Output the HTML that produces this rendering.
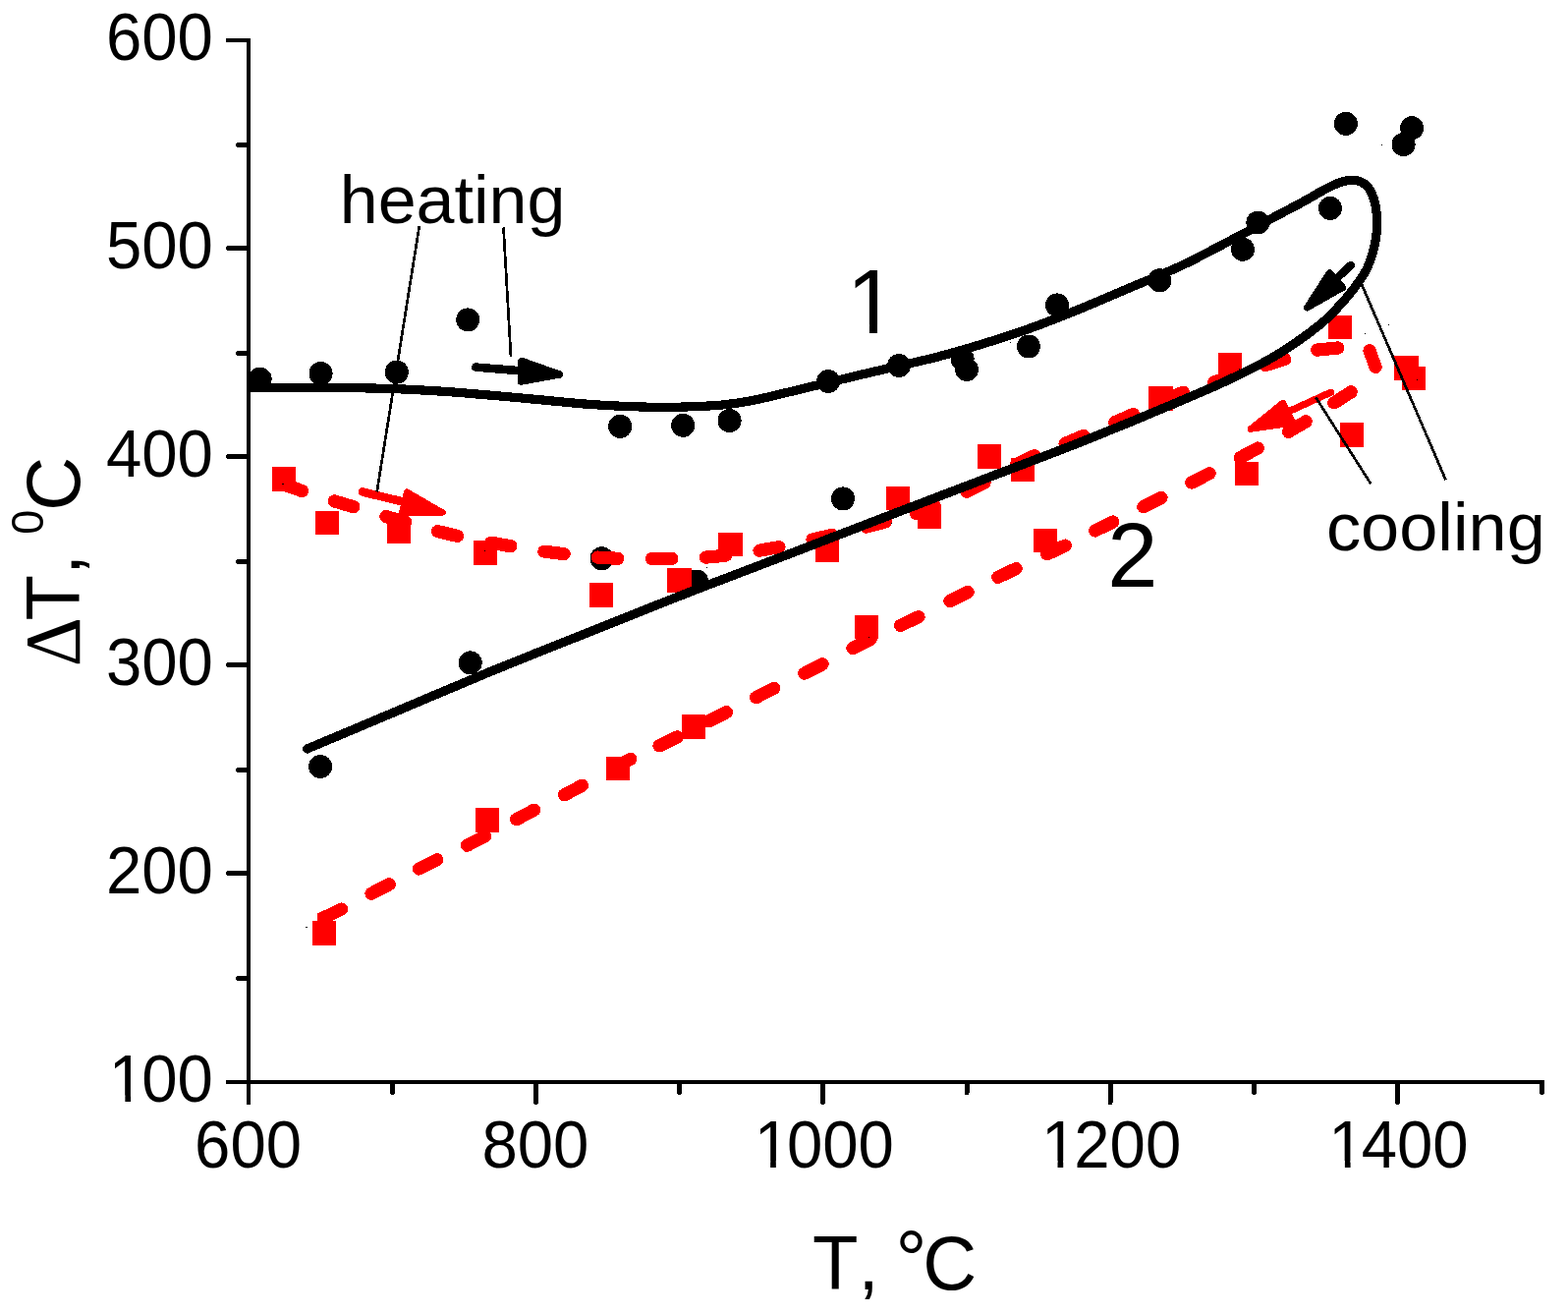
<!DOCTYPE html>
<html lang="en"><head><meta charset="utf-8"><title>ΔT vs T: heating and cooling</title>
<style>html,body{margin:0;padding:0;background:#fff;overflow:hidden}svg{display:block}text{font-family:"Liberation Sans",Arial,Helvetica,sans-serif;fill:#000;font-kerning:none}</style>
</head><body>
<svg width="1596" height="1337" viewBox="0 0 1596 1337" shape-rendering="crispEdges" role="img" aria-label="Temperature difference versus temperature during heating and cooling">
<rect width="1596" height="1337" fill="#fff"/>
<g stroke="#000" stroke-width="4" fill="none">
<path d="M253 39V1124M230 1101H1572M230 41H253"/>
<path d="M232.5 888.7H251M232.5 676.7H251M232.5 464.7H251M232.5 252.7H251M242.5 995.3H251M242.5 783.3H251M242.5 571.3H251M242.5 359.3H251M242.5 147.3H251M545.4 1103V1121.5M837.8 1103V1121.5M1130.1 1103V1121.5M1422.5 1103V1121.5M399.2 1103V1111.5M691.6 1103V1111.5M984.0 1103V1111.5M1276.3 1103V1111.5M1569.5 1103V1111.5" stroke-width="5" stroke-linecap="round"/>
</g>
<g font-size="68">
<text transform="translate(107.9 1121.4) scale(0.960 1)"><tspan dx="3.1">1</tspan><tspan dx="-3.1">00</tspan></text>
<text transform="translate(107.9 909.4) scale(0.960 1)">200</text>
<text transform="translate(107.9 697.4) scale(0.960 1)">300</text>
<text transform="translate(107.9 485.4) scale(0.960 1)">400</text>
<text transform="translate(107.9 273.4) scale(0.960 1)">500</text>
<text transform="translate(107.9 61.4) scale(0.960 1)">600</text>
<text transform="translate(198.1 1188.0) scale(0.960 1)">600</text>
<text transform="translate(490.4 1188.0) scale(0.960 1)">800</text>
<text transform="translate(764.7 1188.0) scale(0.960 1)"><tspan dx="3.1">1</tspan><tspan dx="-3.1">000</tspan></text>
<text transform="translate(1057.0 1188.0) scale(0.960 1)"><tspan dx="3.1">1</tspan><tspan dx="-3.1">200</tspan></text>
<text transform="translate(1349.4 1188.0) scale(0.960 1)"><tspan dx="3.1">1</tspan><tspan dx="-3.1">400</tspan></text>
</g>
<text transform="translate(827.1 1311.8) scale(0.976 1)" font-size="78">T, <tspan x="86.5" dy="-3.1" font-size="82">°</tspan><tspan x="114.8" dy="3.1">C</tspan></text>
<text transform="translate(81.3 677) rotate(-90) scale(0.976 1)" font-size="78"><tspan x="-1.4" font-size="80" font-family="Liberation Serif,serif">Δ</tspan><tspan x="46.6">T, </tspan><tspan x="136.6" font-size="46" dy="-37.5">0</tspan><tspan x="161.2" dy="37.5">C</tspan></text>
<g fill="#000">
<circle cx="264.7" cy="385.6" r="12"/>
<circle cx="326.6" cy="380.0" r="12"/>
<circle cx="403.8" cy="378.6" r="12"/>
<circle cx="476.2" cy="325.4" r="12"/>
<circle cx="631.2" cy="433.9" r="12"/>
<circle cx="695.2" cy="432.8" r="12"/>
<circle cx="742.6" cy="428.0" r="12"/>
<circle cx="843.1" cy="388.0" r="12"/>
<circle cx="915.0" cy="372.0" r="12"/>
<circle cx="979.6" cy="365.3" r="12"/>
<circle cx="984.0" cy="376.0" r="12"/>
<circle cx="1046.9" cy="352.5" r="12"/>
<circle cx="1076.0" cy="310.4" r="12"/>
<circle cx="1180.3" cy="285.3" r="12"/>
<circle cx="1265.0" cy="253.8" r="12"/>
<circle cx="1280.4" cy="226.5" r="12"/>
<circle cx="1354.0" cy="211.9" r="12"/>
<circle cx="1369.9" cy="125.9" r="12"/>
<circle cx="1437.1" cy="130.2" r="12"/>
<circle cx="1428.6" cy="147.0" r="12"/>
<circle cx="858.1" cy="507.4" r="12"/>
<circle cx="612.5" cy="568.3" r="12"/>
<circle cx="709.2" cy="591.5" r="12"/>
<circle cx="478.7" cy="674.4" r="12"/>
<circle cx="326.1" cy="780.0" r="12"/>
</g>
<g fill="#f00">
<rect x="276.75" y="475.05" width="24.5" height="24.5"/>
<rect x="320.75" y="519.75" width="24.5" height="24.5"/>
<rect x="393.75" y="528.75" width="24.5" height="24.5"/>
<rect x="481.75" y="550.15" width="24.5" height="24.5"/>
<rect x="599.75" y="593.25" width="24.5" height="24.5"/>
<rect x="679.35" y="578.25" width="24.5" height="24.5"/>
<rect x="731.25" y="541.75" width="24.5" height="24.5"/>
<rect x="829.75" y="547.75" width="24.5" height="24.5"/>
<rect x="901.75" y="494.75" width="24.5" height="24.5"/>
<rect x="933.75" y="513.45" width="24.5" height="24.5"/>
<rect x="994.75" y="452.05" width="24.5" height="24.5"/>
<rect x="1028.75" y="465.75" width="24.5" height="24.5"/>
<rect x="1169.25" y="393.15" width="24.5" height="24.5"/>
<rect x="1239.75" y="358.75" width="24.5" height="24.5"/>
<rect x="1351.85" y="320.75" width="24.5" height="24.5"/>
<rect x="1419.25" y="362.05" width="24.5" height="24.5"/>
<rect x="1426.75" y="372.75" width="24.5" height="24.5"/>
<rect x="1363.75" y="430.15" width="24.5" height="24.5"/>
<rect x="1256.75" y="469.55" width="24.5" height="24.5"/>
<rect x="1051.75" y="537.75" width="24.5" height="24.5"/>
<rect x="869.75" y="625.75" width="24.5" height="24.5"/>
<rect x="693.75" y="727.25" width="24.5" height="24.5"/>
<rect x="616.75" y="769.75" width="24.5" height="24.5"/>
<rect x="483.75" y="822.35" width="24.5" height="24.5"/>
<rect x="317.75" y="937.25" width="24.5" height="24.5"/>
</g>
<g fill="none" stroke="#f00" stroke-width="13.2" stroke-linecap="round">
<path d="M289.0 493.0L307.6 499.6M340.2 509.9L359.8 515.7M392.9 525.5L412.5 531.1M445.6 540.6L465.4 545.4M499.9 552.2L519.9 555.8M553.9 561.1L574.1 563.7M608.3 567.1L628.7 568.3M663.5 568.6L683.9 568.4M718.2 567.1L738.6 565.3M773.0 560.2L793.0 556.6M827.0 549.0L846.8 544.4M881.7 536.1L901.5 530.9M932.4 522.6L951.6 515.4M983.9 500.2L1002.1 491.0M1034.6 472.4L1053.0 463.6M1084.1 451.3L1102.9 443.3M1134.8 429.7L1153.4 421.5M1185.5 406.8L1204.5 399.2M1235.8 388.7L1255.2 382.3M1288.3 371.6L1307.7 365.4M1340.6 356.1L1361.9 354.0M1394.0 356.7L1400.1 373.4"/>
<path d="M378.0 909.2L396.2 899.8M426.5 884.0L444.7 874.8M475.4 860.2L493.6 851.0M525.6 833.7L543.6 824.3M574.5 808.8L592.5 799.2M623.5 781.7L641.7 772.3M671.0 758.9L689.4 749.9M721.2 733.9L739.4 724.7M769.6 709.6L787.8 700.4M818.9 685.1L837.1 675.9M867.9 659.5L886.1 650.5M916.6 636.4L935.0 627.6M966.9 611.5L985.1 602.5M1015.8 587.4L1034.2 578.6M1065.8 563.9L1084.2 555.1M1114.7 540.0L1132.9 531.0M1163.8 515.6L1182.0 506.4M1212.9 491.0L1231.1 481.8M1262.3 465.6L1280.3 456.0M1311.5 439.3L1329.1 428.9M1357.9 409.9L1375.1 398.9"/>
<clipPath id="cut"><rect x="323.1" y="900" width="60" height="60"/></clipPath>
<path d="M318 939.4L347.5 925.1" clip-path="url(#cut)"/>
</g>
<g fill="#f00" stroke="#f00" stroke-linejoin="round" stroke-linecap="round">
<path d="M368.9 500.5L410 510.5" stroke-width="8.6" fill="none"/>
<path d="M414 500.3L450.8 521.5L409 521.5Z" stroke-width="6"/>
<path d="M1354.7 399.2L1314.9 417.2" stroke-width="7.2" fill="none"/>
<path d="M1305.9 410.1L1315.9 430.2L1273.2 436.4Z" stroke-width="6.8"/>
</g>
<path d="M257.0 394.5C281.3 394.5 305.7 394.3 330.0 394.5C353.3 394.7 376.7 394.7 400.0 395.6C416.7 396.2 433.3 397.1 450.0 398.2C466.7 399.3 483.3 400.8 500.0 402.2C516.7 403.6 533.3 405.3 550.0 406.8C566.7 408.3 583.3 410.2 600.0 411.4C613.3 412.4 626.7 413.1 640.0 413.6C651.7 414.0 663.3 414.3 675.0 414.3C686.7 414.3 698.3 414.1 710.0 413.6C720.0 413.1 730.1 412.7 740.0 411.5C750.1 410.3 760.1 408.6 770.0 406.6C780.1 404.6 790.0 402.0 800.0 399.6C813.3 396.4 826.7 393.2 840.0 390.0C853.3 386.8 866.7 383.5 880.0 380.4C891.7 377.7 903.3 375.0 915.0 372.3C926.7 369.6 938.4 367.1 950.0 364.2C966.8 360.0 983.4 355.1 1000.0 350.0C1016.8 344.9 1033.5 339.4 1050.0 333.5C1066.8 327.5 1083.4 320.7 1100.0 314.0C1116.8 307.2 1133.3 299.9 1150.0 292.8C1166.7 285.7 1183.6 279.2 1200.0 271.5C1216.9 263.6 1233.4 254.7 1250.0 246.0C1266.7 237.3 1283.3 228.2 1300.0 219.3C1310.0 214.0 1320.1 208.8 1330.0 203.3C1336.7 199.6 1343.2 195.4 1350.0 192.0C1354.3 189.9 1358.5 187.5 1363.0 186.0C1367.2 184.6 1371.7 183.2 1376.1 183.3C1379.2 183.4 1382.6 183.8 1385.4 185.1C1387.9 186.3 1390.3 188.2 1392.2 190.3C1394.5 192.9 1396.1 196.3 1397.4 199.6C1398.9 203.3 1399.7 207.3 1400.4 211.2C1401.1 215.3 1401.4 219.5 1401.5 223.6C1401.6 228.0 1401.6 232.4 1401.2 236.7C1400.8 240.5 1400.2 244.3 1399.4 248.0C1398.6 252.0 1397.5 256.1 1396.3 260.0C1395.0 264.2 1393.6 268.4 1391.8 272.4C1389.3 277.7 1385.8 282.6 1382.5 287.4C1377.1 295.3 1370.9 302.7 1364.5 309.8C1359.8 315.0 1355.0 320.1 1349.9 324.8C1342.9 331.2 1335.2 336.9 1327.5 342.5C1318.6 349.0 1309.4 355.2 1300.0 361.0C1284.0 370.8 1266.9 378.7 1250.0 386.8C1233.6 394.6 1216.7 401.5 1200.0 408.7C1183.4 415.8 1166.7 422.7 1150.0 429.6C1133.4 436.4 1116.7 443.2 1100.0 449.8C1066.8 463.0 1033.3 475.4 1000.0 488.2C966.7 501.0 933.3 513.6 900.0 526.4C866.6 539.2 833.4 552.2 800.0 565.0C766.7 577.8 733.2 590.2 700.0 603.2C666.6 616.2 633.3 629.7 600.0 643.0C566.7 656.3 533.2 669.4 500.0 683.0C466.5 696.8 433.3 711.1 400.0 725.2C370.9 737.5 341.7 749.7 312.6 762.0" fill="none" stroke="#000" stroke-width="9.2" stroke-linecap="round" stroke-linejoin="round"/>
<g fill="#000" stroke="#000" stroke-linejoin="round" stroke-linecap="round">
<path d="M484.3 373.6L530 377.3" stroke-width="8.6" fill="none"/>
<path d="M531 367.5L530.3 388L569.3 381Z" stroke-width="7.5"/>
<path d="M1375 269.8L1361 283" stroke-width="8.2" fill="none"/>
<path d="M1353.5 277.5L1366.6 292.6L1330.5 313Z" stroke-width="7"/>
</g>
<g stroke="#000" stroke-width="2.7" fill="none">
<path d="M426.8 230L383.7 500.4M512.5 231.5L520 363M1386.3 290L1471.6 488.3M1339.4 404.5L1395.4 492.5"/>
</g>
<path d="M311 943.5h2M1412.5 330.5h1M1388.5 339.5h1M1027.5 348.5h1M718.5 577.5h1M906.5 532.5h1M1405.5 147.5h1M287 492.5h2M492.5 560.5h1M884 648.5h1M1441.5 386.5h1M1260.5 375.5h1" stroke="#000" stroke-width="1" fill="none"/>
<text transform="translate(345.75 227) scale(1.013 1)" font-size="69.1">heating</text>
<text transform="translate(1349.9 560) scale(1.018 1)" font-size="69.1">cooling</text>
<text x="861.7" y="338.8" font-size="92">1</text>
<text x="1127.3" y="596.9" font-size="92">2</text>
<g fill="#fff" shape-rendering="geometricPrecision"><rect x="114.78" y="1114.50" width="12.59" height="8.10"/><rect x="133.08" y="1114.50" width="11.93" height="8.10"/><rect x="771.54" y="1181.10" width="12.59" height="8.10"/><rect x="789.84" y="1181.10" width="11.93" height="8.10"/><rect x="1063.92" y="1181.10" width="12.59" height="8.10"/><rect x="1082.22" y="1181.10" width="11.93" height="8.10"/><rect x="1356.30" y="1181.10" width="12.59" height="8.10"/><rect x="1374.60" y="1181.10" width="11.93" height="8.10"/><rect x="867.60" y="330.10" width="17.33" height="9.90"/><rect x="892.98" y="330.10" width="16.41" height="9.90"/></g>
</svg>
</body></html>
